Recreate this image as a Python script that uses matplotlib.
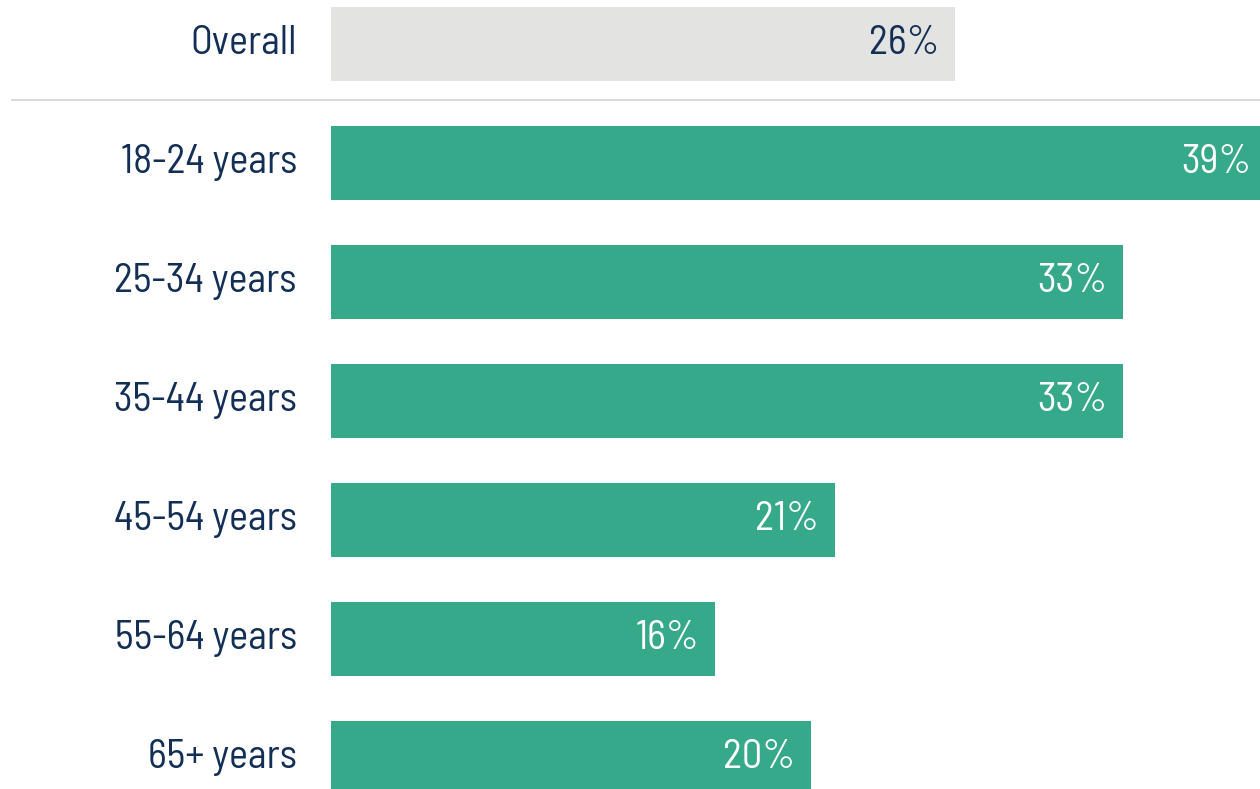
import matplotlib.pyplot as plt
from matplotlib.lines import Line2D

categories = ["Overall", "18-24 years", "25-34 years", "35-44 years",
              "45-54 years", "55-64 years", "65+ years"]
values = [26, 39, 33, 33, 21, 16, 20]

green = "#35a98a"
grey = "#e3e3e1"
navy = "#132f55"
font = ["Barlow Semi Condensed", "Roboto Condensed", "DejaVu Sans"]

W, H = 1260, 789
fig = plt.figure(figsize=(W / 100, H / 100), dpi=100)
left = 331 / W
ax = fig.add_axes([left, 0, 1 - left, 1])

# 24 px per percentage point, first row centred at y=43.5 px, rows 119 px apart
ax.set_xlim(0, (W - 331) / 24)
ax.set_ylim((H - 43.5) / 119, -43.5 / 119)

ypos = list(range(len(categories)))
colors = [grey] + [green] * (len(categories) - 1)
ax.barh(ypos, values, height=74 / 119, color=colors, linewidth=0)

pad = 16 / 24
for y, cat, v in zip(ypos, categories, values):
    ax.text(-34 / 24, y, cat, ha="right", va="center", fontsize=29,
            color=navy, family=font, clip_on=False)
    txt_color = navy if y == 0 else "white"
    ax.text(v - pad, y, f"{v}%", ha="right", va="center", fontsize=29,
            color=txt_color, family=font, clip_on=False)

ax.axis("off")

fig.add_artist(Line2D([12 / W, 1], [1 - 100 / H, 1 - 100 / H],
                      transform=fig.transFigure, color="#d3d3d1", lw=1.2))

fig.savefig("out.png", dpi=100, facecolor="white")
